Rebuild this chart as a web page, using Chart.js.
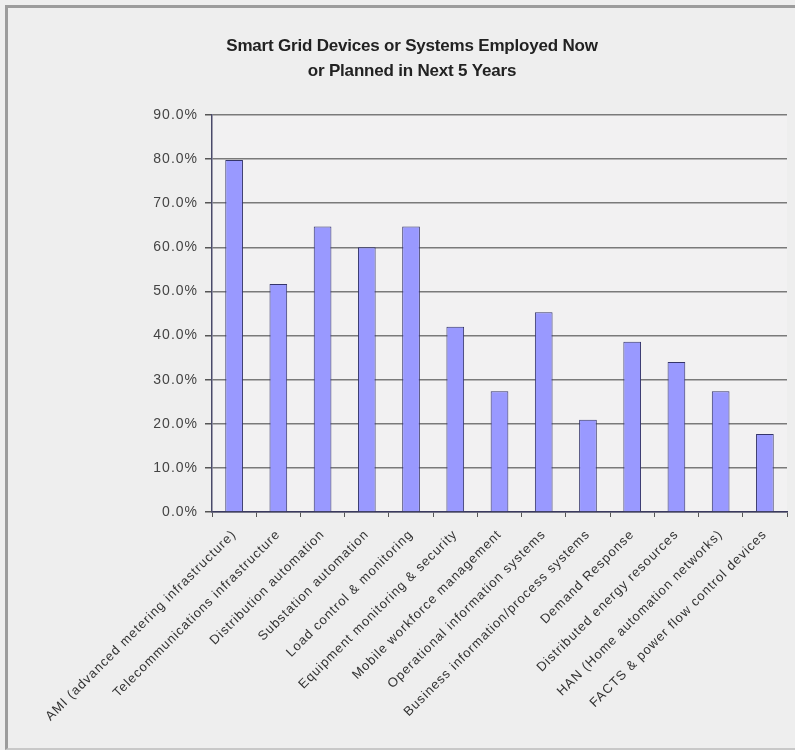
<!DOCTYPE html>
<html>
<head>
<meta charset="utf-8">
<script src="https://cdn.jsdelivr.net/npm/chart.js@4.4.1/dist/chart.umd.min.js"></script>
<style>
    html, body { margin: 0; padding: 0; background: #eeeeee; }
    #frame {
        position: absolute; left: 5px; top: 5px; width: 800px; height: 740px;
        border-left: 3px solid #9c9c9c; border-top: 3px solid #9c9c9c; border-bottom: 2px solid #c8c8c8;
    }
    #wrap { position: absolute; left: 0; top: 0; width: 795px; height: 750px; }
</style>
</head>
<body>
<div id="frame"></div>
<div id="wrap"><canvas id="barChart"></canvas></div>
<script>
const chartTitle = ['Smart Grid Devices or Systems Employed Now', 'or Planned in Next 5 Years'];

const categories = [
    'AMI (advanced metering infrastructure)',
    'Telecommunications infrastructure',
    'Distribution automation',
    'Substation automation',
    'Load control & monitoring',
    'Equipment monitoring & security',
    'Mobile workforce management',
    'Operational information systems',
    'Business information/process systems',
    'Demand Response',
    'Distributed energy resources',
    'HAN (Home automation networks)',
    'FACTS & power flow control devices'
];

// percent of respondents
const shareValues = [79.8, 51.7, 64.7, 60.0, 64.7, 42.0, 27.4, 45.3, 20.9, 38.6, 34.0, 27.4, 17.7];

const yMin = 0;
const yMax = 90;
const yStep = 10;

/**
 * background of the plot area, wider letter spacing for the axis text, and the two-line title
 */
const plotDecor = {
    id: 'plotDecor',
    beforeDraw(chart) {
        const { ctx, chartArea } = chart;
        ctx.save();
        ctx.fillStyle = '#f2f1f2';
        ctx.fillRect(chartArea.left, chartArea.top, chartArea.right - chartArea.left, chartArea.bottom - chartArea.top);
        ctx.restore();
        ctx.letterSpacing = '1px';
    },
    afterDraw(chart) {
        const ctx = chart.ctx;
        ctx.save();
        ctx.letterSpacing = '-0.2px';
        ctx.fillStyle = '#222222';
        ctx.font = 'bold 17px "Liberation Sans", Arial, sans-serif';
        ctx.textAlign = 'center';
        ctx.textBaseline = 'middle';
        chartTitle.forEach(function (line, i) {
            ctx.fillText(line, 412, 46 + i * 25);
        });
        ctx.restore();
        ctx.letterSpacing = '0px';
    }
};

const barChart = new Chart(document.getElementById('barChart'), {
    type: 'bar',
    data: {
        labels: categories,
        datasets: [{
            data: shareValues,
            backgroundColor: '#9999ff',
            borderColor: '#35356a',
            borderWidth: 1,
            barPercentage: 0.4,
            categoryPercentage: 1.0
        }]
    },
    options: {
        responsive: true,
        maintainAspectRatio: false,
        animation: false,
        layout: { padding: { top: 115, left: 8, right: 8, bottom: 8 } },
        plugins: {
            legend: { display: false },
            tooltip: { enabled: false },
            title: { display: false }
        },
        scales: {
            x: {
                afterFit: function (scale) { scale.height = 230; },
                grid: { drawOnChartArea: false, drawTicks: true, tickLength: 5, color: '#555555', offset: true },
                border: { color: '#3a3a5e', width: 1.5 },
                ticks: {
                    autoSkip: false,
                    maxRotation: 45,
                    minRotation: 45,
                    padding: 10,
                    color: '#333333',
                    font: { family: '"Liberation Sans", Arial, sans-serif', size: 13 }
                }
            },
            y: {
                min: yMin,
                max: yMax,
                afterFit: function (scale) { scale.width = 204; },
                grid: { color: '#7a7a7a', lineWidth: 1.5, tickLength: 7, tickColor: '#555555' },
                border: { color: '#4a4a6a', width: 1.5 },
                ticks: {
                    stepSize: yStep,
                    padding: 7,
                    color: '#444444',
                    font: { family: '"Liberation Sans", Arial, sans-serif', size: 14 },
                    callback: function (value) { return value.toFixed(1) + '%'; }
                }
            }
        }
    },
    plugins: [plotDecor]
});
</script>
</body>
</html>
